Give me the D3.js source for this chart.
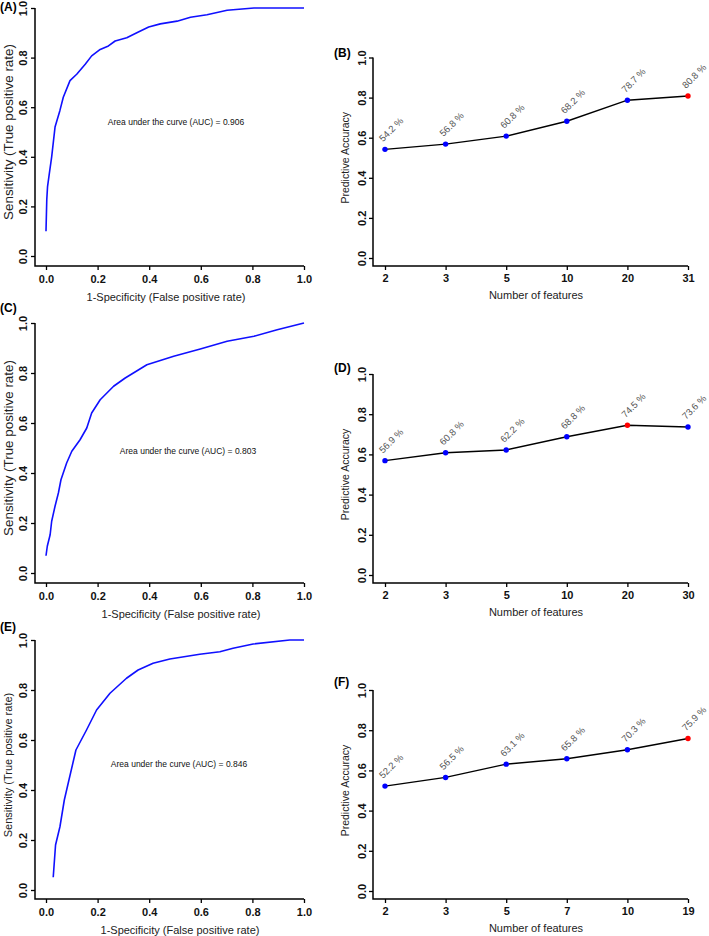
<!DOCTYPE html>
<html><head><meta charset="utf-8">
<script src="https://cdn.jsdelivr.net/npm/d3@7"></script>
<style>
html,body{margin:0;padding:0;background:#fff;}
svg{display:block;font-family:"Liberation Sans",Arial,Helvetica,sans-serif;}
</style></head>
<body>
<svg id="chart" width="709" height="936"></svg>
<script>
// ---------- DATA ----------
// ROC curves (false positive rate, true positive rate)
const rocA_fpr = [0,0.003,0.006,0.013,0.022,0.035,0.054,0.067,0.093,0.119,0.152,0.177,0.21,0.242,0.268,0.313,0.352,0.398,0.443,0.508,0.56,0.624,0.702,0.806,1.0];
const rocA_tpr = [0.10,0.227,0.28,0.333,0.40,0.52,0.587,0.64,0.707,0.733,0.773,0.807,0.833,0.847,0.867,0.88,0.90,0.923,0.936,0.947,0.963,0.973,0.991,1.0,1.0];
const rocA_auc = "0.906";

const rocC_fpr = [0,0.005,0.016,0.022,0.035,0.048,0.058,0.080,0.10,0.132,0.158,0.177,0.21,0.262,0.307,0.391,0.495,0.598,0.702,0.806,0.896,1.0];
const rocC_tpr = [0.069,0.107,0.153,0.207,0.267,0.32,0.373,0.44,0.487,0.533,0.58,0.64,0.693,0.747,0.78,0.833,0.867,0.896,0.927,0.947,0.973,1.0];
const rocC_auc = "0.803";

const rocE_fpr = [0.028,0.037,0.054,0.071,0.086,0.116,0.157,0.196,0.248,0.312,0.357,0.415,0.48,0.596,0.674,0.725,0.803,0.945,1.0];
const rocE_tpr = [0.051,0.18,0.253,0.36,0.427,0.56,0.64,0.72,0.787,0.847,0.88,0.907,0.924,0.943,0.953,0.967,0.984,1.0,1.0];
const rocE_auc = "0.846";

const rocTicks = [0,0.2,0.4,0.6,0.8,1.0];

// Predictive accuracy vs number of features
const featB = ["2","3","5","10","20","31"];
const accB  = [0.542,0.568,0.608,0.682,0.787,0.808];
const bestB = 5;

const featD = ["2","3","5","10","20","30"];
const accD  = [0.569,0.608,0.622,0.688,0.745,0.736];
const bestD = 4;

const featF = ["2","3","5","7","10","19"];
const accF  = [0.522,0.565,0.631,0.658,0.703,0.759];
const bestF = 5;

const accTicks = [0,0.2,0.4,0.6,0.8,1.0];

// ---------- DRAW ----------
const svg = d3.select("#chart");
const fmt1 = d3.format(".1f");

function styleAxis(g){
  g.select(".domain").remove();
  g.selectAll(".tick line").attr("stroke","#000").attr("stroke-width",1.3);
  g.selectAll(".tick text").attr("fill","#111").attr("font-weight","bold").attr("font-size","11px");
}

function drawROC(cfg){
  const x = d3.scaleLinear().domain([0,1]).range([cfg.x0,cfg.x1]);
  const y = d3.scaleLinear().domain([0,1]).range([cfg.y0,cfg.y1]);
  const g = svg.append("g");
  // L-shaped axis lines
  g.append("path").attr("fill","none").attr("stroke","#000").attr("stroke-width",1.5)
    .attr("d",`M${cfg.ax},${y(1)}V${cfg.ay}H${x(1)}`);
  const xa = g.append("g").attr("transform",`translate(0,${cfg.ay})`)
    .call(d3.axisBottom(x).tickValues(rocTicks).tickFormat(fmt1).tickSize(4).tickPadding(5).tickSizeOuter(0));
  styleAxis(xa);
  const ya = g.append("g").attr("transform",`translate(${cfg.ax},0)`)
    .call(d3.axisLeft(y).tickValues(rocTicks).tickFormat(fmt1).tickSize(4).tickSizeOuter(0));
  styleAxis(ya);
  ya.selectAll(".tick text").attr("x",null).attr("dy","0.35em").attr("text-anchor","middle")
    .attr("transform","translate(-12,0) rotate(-90)");
  // curve
  const pts = cfg.fpr.map((f,i)=>[f,cfg.tpr[i]]);
  g.append("path").datum(pts).attr("fill","none").attr("stroke","#1010ff").attr("stroke-width",1.6)
    .attr("stroke-linejoin","round")
    .attr("d",d3.line().x(d=>x(d[0])).y(d=>y(d[1])));
  // AUC text
  g.append("text").attr("x",cfg.aucX).attr("y",cfg.aucY).attr("dy","0.35em").attr("text-anchor","middle")
    .attr("font-size","8.5px").attr("fill","#111").text(`Area under the curve (AUC) = ${cfg.auc}`);
  // titles
  g.append("text").attr("x",cfg.xtX).attr("y",cfg.ay+31).attr("dy","0.35em").attr("text-anchor","middle")
    .attr("font-size","11px").attr("fill","#222").text("1-Specificity (False positive rate)");
  g.append("text").attr("transform",`translate(8,${y(0.5)}) rotate(-90)`).attr("dy","0.35em")
    .attr("text-anchor","middle").attr("font-size",cfg.ytSize).attr("fill","#222")
    .text("Sensitivity (True positive rate)");
  g.append("text").attr("x",0).attr("y",cfg.labY).attr("dy","0.35em").attr("font-weight","bold")
    .attr("font-size","12px").attr("fill","#000").text(cfg.label);
}

function drawAcc(cfg){
  const x = d3.scalePoint().domain(cfg.feat).range([cfg.x0,cfg.x1]);
  const y = d3.scaleLinear().domain([0,1]).range([cfg.y0,cfg.y1]);
  const g = svg.append("g");
  g.append("path").attr("fill","none").attr("stroke","#000").attr("stroke-width",1.5)
    .attr("d",`M${cfg.ax},${y(1)}V${cfg.ay}H${x(cfg.feat[cfg.feat.length-1])}`);
  const xa = g.append("g").attr("transform",`translate(0,${cfg.ay})`)
    .call(d3.axisBottom(x).tickSize(4).tickPadding(4).tickSizeOuter(0));
  styleAxis(xa);
  const ya = g.append("g").attr("transform",`translate(${cfg.ax},0)`)
    .call(d3.axisLeft(y).tickValues(accTicks).tickFormat(fmt1).tickSize(4).tickSizeOuter(0));
  styleAxis(ya);
  ya.selectAll(".tick text").attr("x",null).attr("dy","0.35em").attr("text-anchor","middle")
    .attr("transform","translate(-11,0) rotate(-90)");
  const pts = cfg.feat.map((f,i)=>({f, v:cfg.acc[i], i}));
  g.append("path").datum(pts).attr("fill","none").attr("stroke","#000").attr("stroke-width",1.4)
    .attr("d",d3.line().x(d=>x(d.f)).y(d=>y(d.v)));
  g.selectAll("circle").data(pts).join("circle")
    .attr("cx",d=>x(d.f)).attr("cy",d=>y(d.v)).attr("r",2.7)
    .attr("fill",d=>d.i===cfg.best?"#ff0000":"#0000ff");
  g.selectAll("text.lab").data(pts).join("text").attr("class","lab")
    .attr("transform",d=>`translate(${x(d.f)-2},${y(d.v)-7}) rotate(-45)`)
    .attr("font-size","9.5px").attr("fill","#555")
    .text(d=>`${(d.v*100).toFixed(1)} %`);
  g.append("text").attr("x",536).attr("y",cfg.ay+29).attr("dy","0.35em").attr("text-anchor","middle")
    .attr("font-size","11px").attr("fill","#222").text("Number of features");
  g.append("text").attr("transform",`translate(345,${y(0.5)}) rotate(-90)`).attr("dy","0.35em")
    .attr("text-anchor","middle").attr("font-size","10.5px").attr("fill","#222").text("Predictive Accuracy");
  g.append("text").attr("x",334).attr("y",cfg.labY).attr("dy","0.35em").attr("font-weight","bold")
    .attr("font-size","12px").attr("fill","#000").text(cfg.label);
}

drawROC({fpr:rocA_fpr,tpr:rocA_tpr,auc:rocA_auc,x0:46,x1:304,y0:256,y1:8,ax:35,ay:266,
  aucX:176,aucY:122,xtX:166,ytSize:"13.4px",labY:7,label:"(A)"});
drawROC({fpr:rocC_fpr,tpr:rocC_tpr,auc:rocC_auc,x0:46,x1:304,y0:573,y1:323,ax:35,ay:583,
  aucX:188,aucY:451,xtX:181,ytSize:"13.4px",labY:308,label:"(C)"});
drawROC({fpr:rocE_fpr,tpr:rocE_tpr,auc:rocE_auc,x0:46,x1:304,y0:890,y1:640,ax:35,ay:899,
  aucX:179,aucY:764,xtX:180,ytSize:"11px",labY:627,label:"(E)"});

drawAcc({feat:featB,acc:accB,best:bestB,x0:385,x1:688,y0:258,y1:57.5,ax:373,ay:266,labY:53,label:"(B)"});
drawAcc({feat:featD,acc:accD,best:bestD,x0:385,x1:688,y0:575,y1:374,ax:373,ay:583,labY:368,label:"(D)"});
drawAcc({feat:featF,acc:accF,best:bestF,x0:385,x1:688,y0:891,y1:690,ax:373,ay:899,labY:682,label:"(F)"});
</script>
</body></html>
